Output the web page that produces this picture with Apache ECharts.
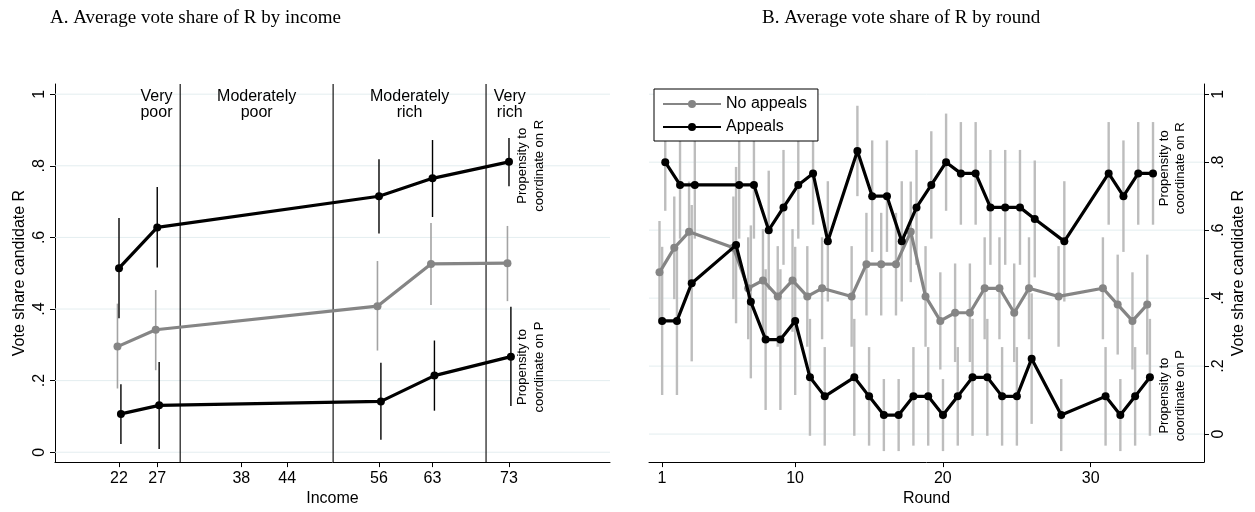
<!DOCTYPE html>
<html>
<head>
<meta charset="utf-8">
<script src="https://cdn.jsdelivr.net/npm/echarts@6/dist/echarts.min.js"></script>
<style>
  html, body { margin: 0; padding: 0; background: #fff; }
  #chart { width: 1255px; height: 512px; }
</style>
</head>
<body>
<div id="chart"></div>
<script>
// ---------- Panel A: vote share by income ----------
const incomeTicks = [22, 27, 38, 44, 56, 63, 73];
const incomeLevels = [22, 27, 56, 63, 73];
const incomeCuts = [30, 50, 70];
const incomeGroups = ['Very\npoor', 'Moderately\npoor', 'Moderately\nrich', 'Very\nrich'];
const incomeGroupCenters = [26.9, 40, 60, 73.1];

// propensity to coordinate on R (upper black)
const incomeR = [0.514, 0.628, 0.715, 0.765, 0.811];
const incomeRLo = [0.374, 0.516, 0.611, 0.657, 0.743];
const incomeRHi = [0.654, 0.741, 0.818, 0.872, 0.878];
// average share of R (grey)
const incomeAll = [0.295, 0.342, 0.408, 0.526, 0.528];
const incomeAllLo = [0.178, 0.229, 0.284, 0.411, 0.422];
const incomeAllHi = [0.415, 0.453, 0.534, 0.640, 0.632];
// propensity to coordinate on P (lower black)
const incomeP = [0.107, 0.131, 0.142, 0.214, 0.267];
const incomePLo = [0.023, 0.009, 0.035, 0.116, 0.129];
const incomePHi = [0.190, 0.252, 0.250, 0.312, 0.406];

// ---------- Panel B: vote share by round ----------
const roundTicks = [1, 10, 20, 30];
const rounds = [1, 2, 3, 6, 7, 8, 9, 10, 11, 12, 14, 15, 16, 17, 18, 19, 20, 21, 22, 23, 24, 25, 26, 28, 31, 32, 33, 34];
const noAppeals = [0.476, 0.548, 0.595, 0.548, 0.429, 0.452, 0.405, 0.452, 0.405, 0.429, 0.405, 0.500, 0.500, 0.500,
                   0.595, 0.405, 0.333, 0.357, 0.357, 0.429, 0.429, 0.357, 0.429, 0.405, 0.429, 0.381, 0.333, 0.381];
const noAppealsHalf = [0.151, 0.151, 0.148, 0.151, 0.150, 0.151, 0.148, 0.151, 0.148, 0.150, 0.148, 0.151, 0.151, 0.151,
                       0.148, 0.148, 0.143, 0.145, 0.145, 0.150, 0.150, 0.145, 0.150, 0.148, 0.150, 0.147, 0.143, 0.147];
const appealsR = [0.800, 0.733, 0.733, 0.733, 0.733, 0.600, 0.667, 0.733, 0.767, 0.567, 0.833, 0.700, 0.700, 0.567,
                  0.667, 0.733, 0.800, 0.767, 0.767, 0.667, 0.667, 0.667, 0.633, 0.567, 0.767, 0.700, 0.767, 0.767];
const appealsRHalf = [0.143, 0.158, 0.158, 0.158, 0.158, 0.175, 0.169, 0.158, 0.151, 0.177, 0.133, 0.164, 0.164, 0.177,
                      0.169, 0.158, 0.143, 0.151, 0.151, 0.169, 0.169, 0.169, 0.172, 0.177, 0.151, 0.164, 0.151, 0.151];
const appealsP = [0.333, 0.333, 0.444, 0.556, 0.389, 0.278, 0.278, 0.333, 0.167, 0.111, 0.167, 0.111, 0.056, 0.056,
                  0.111, 0.111, 0.056, 0.111, 0.167, 0.167, 0.111, 0.111, 0.222, 0.056, 0.111, 0.056, 0.111, 0.167];
const appealsPHalf = [0.218, 0.218, 0.230, 0.230, 0.225, 0.207, 0.207, 0.218, 0.172, 0.145, 0.172, 0.145, 0.106, 0.106,
                      0.145, 0.145, 0.106, 0.145, 0.172, 0.172, 0.145, 0.145, 0.192, 0.106, 0.145, 0.106, 0.145, 0.172];

const shareTicks = [0, 0.2, 0.4, 0.6, 0.8, 1];
const shareTickLabels = ['0', '.2', '.4', '.6', '.8', '1'];
const sideLabels = ['Propensity to\ncoordinate on R', 'Propensity to\ncoordinate on P'];

// ---------- styling ----------
const SANS = '"Liberation Sans", Arial, Helvetica, sans-serif';
const SERIF = '"Liberation Serif", "DejaVu Serif", serif';
const BLACK = '#000000';
const GREY = '#858585';
const CI_LEFT_GREY = '#a3a3a3';
const CI_RIGHT = '#bdbdbd';
const GRID = '#e4eef0';

// scale extents of each panel
const A_X = [13.63, 86.21], A_Y = [-0.0276, 1.0285];
const B_X = [0.12, 37.67], B_Y = [-0.0824, 1.030];
// horizontal dodge of the series inside each panel
const A_DODGE = { all: -0.2, r: 0, p: 0.25 };
const B_DODGE = { none: -0.17, r: 0.22, p: 0.01 };

function tickLabel(v) {
  let best = 0;
  shareTicks.forEach((t, i) => { if (Math.abs(t - v) < Math.abs(shareTicks[best] - v)) best = i; });
  return shareTickLabels[best];
}

function errorBarRender(color, width) {
  return function (params, api) {
    const x = api.value(0);
    const a = api.coord([x, api.value(1)]);
    const b = api.coord([x, api.value(2)]);
    return { type: 'line', shape: { x1: a[0], y1: a[1], x2: b[0], y2: b[1] },
             style: { stroke: color, lineWidth: width } };
  };
}

function hGridRender(params, api) {
  const cs = params.coordSys;
  const p = api.coord([api.value(0), api.value(1)]);
  return { type: 'line', shape: { x1: cs.x, y1: p[1], x2: cs.x + cs.width, y2: p[1] },
           style: { stroke: GRID, lineWidth: 1 } };
}

function vLineRender(params, api) {
  const cs = params.coordSys;
  const p = api.coord([api.value(0), api.value(1)]);
  return { type: 'line', shape: { x1: p[0], y1: cs.y, x2: p[0], y2: cs.y + cs.height },
           style: { stroke: BLACK, lineWidth: 1.1 } };
}

function textRender(texts, opt) {
  return function (params, api) {
    const p = api.coord([api.value(0), api.value(1)]);
    return { type: 'text', x: p[0], y: p[1], rotation: opt.rotation || 0,
             style: { text: texts[params.dataIndex], fill: BLACK, font: opt.font,
                      align: 'center', verticalAlign: opt.va || 'middle', lineHeight: opt.lh } };
  };
}

function bars(xs, lo, hi, dx) { return xs.map((x, i) => [x + dx, lo[i], hi[i]]); }
function barsHalf(xs, v, h, dx) { return xs.map((x, i) => [x + dx, v[i] - h[i], v[i] + h[i]]); }
function pts(xs, v, dx) { return xs.map((x, i) => [x + dx, v[i]]); }

function lineSeries(name, data, color, idx, z, size) {
  return { type: 'line', name: name, xAxisIndex: idx, yAxisIndex: idx, data: data, z: z,
           symbol: 'circle', symbolSize: size, showSymbol: true,
           itemStyle: { color: color }, lineStyle: { color: color, width: 3.2 },
           emphasis: { disabled: true } };
}

function customSeries(idx, data, render, z, encode) {
  return { type: 'custom', xAxisIndex: idx, yAxisIndex: idx, data: data, renderItem: render, z: z,
           silent: true, encode: encode || { x: 0, y: 1 } };
}

const axisTextStyle = { color: BLACK, fontSize: 16, fontFamily: SANS };

function xAxis(idx, ext, ticks, name) {
  return { gridIndex: idx, type: 'value', min: ext[0], max: ext[1], position: 'bottom',
           axisLine: { show: true, onZero: false, lineStyle: { color: BLACK, width: 1 } },
           axisTick: { show: true, customValues: ticks, length: 5, lineStyle: { color: BLACK, width: 1 } },
           axisLabel: Object.assign({ customValues: ticks, margin: 8, formatter: v => String(Math.round(v)) }, axisTextStyle),
           splitLine: { show: false },
           name: name, nameLocation: 'middle', nameGap: 26, nameTextStyle: axisTextStyle };
}

function yAxis(idx, ext, pos) {
  return { gridIndex: idx, type: 'value', min: ext[0], max: ext[1], position: pos,
           axisLine: { show: true, onZero: false, lineStyle: { color: BLACK, width: 1 } },
           axisTick: { show: true, customValues: shareTicks, length: 5, lineStyle: { color: BLACK, width: 1 } },
           axisLabel: Object.assign({ customValues: shareTicks, rotate: 90, margin: 7, formatter: tickLabel }, axisTextStyle),
           splitLine: { show: false },
           name: 'Vote share candidate R', nameLocation: 'middle', nameRotate: 90, nameGap: 27,
           nameTextStyle: axisTextStyle };
}

const option = {
  animation: false,
  backgroundColor: '#ffffff',
  title: [
    { text: 'A. Average vote share of R by income', left: 45, top: 4,
      textStyle: { fontFamily: SERIF, fontWeight: 'normal', fontSize: 19, color: BLACK } },
    { text: 'B. Average vote share of R by round', left: 757, top: 4,
      textStyle: { fontFamily: SERIF, fontWeight: 'normal', fontSize: 19, color: BLACK } }
  ],
  legend: {
    data: ['No appeals', 'Appeals'], orient: 'vertical', left: 654, top: 89,
    padding: [7, 11, 6, 8], itemGap: 7, itemWidth: 58, itemHeight: 10,
    backgroundColor: '#fff', borderColor: BLACK, borderWidth: 1, borderRadius: 0,
    textStyle: { color: BLACK, fontSize: 16, fontFamily: SANS },
    selectedMode: false
  },
  grid: [
    { left: 55, top: 84, width: 555, height: 382 },
    { left: 649, top: 84, width: 555, height: 382 }
  ],
  xAxis: [ xAxis(0, A_X, incomeTicks, 'Income'), xAxis(1, B_X, roundTicks, 'Round') ],
  yAxis: [ yAxis(0, A_Y, 'left'), yAxis(1, B_Y, 'right') ],
  series: [
    // panel A
    customSeries(0, shareTicks.map(v => [A_X[0], v]), hGridRender, 1),
    customSeries(0, incomeCuts.map(v => [v, 0]), vLineRender, 2),
    customSeries(0, bars(incomeLevels, incomeAllLo, incomeAllHi, A_DODGE.all), errorBarRender(CI_LEFT_GREY, 1.6), 3, { x: 0, y: [1, 2] }),
    customSeries(0, bars(incomeLevels, incomeRLo, incomeRHi, A_DODGE.r), errorBarRender(BLACK, 1.4), 3, { x: 0, y: [1, 2] }),
    customSeries(0, bars(incomeLevels, incomePLo, incomePHi, A_DODGE.p), errorBarRender(BLACK, 1.4), 3, { x: 0, y: [1, 2] }),
    lineSeries('Average share', pts(incomeLevels, incomeAll, A_DODGE.all), GREY, 0, 4, 8),
    lineSeries('Coordinate on R', pts(incomeLevels, incomeR, A_DODGE.r), BLACK, 0, 5, 8),
    lineSeries('Coordinate on P', pts(incomeLevels, incomeP, A_DODGE.p), BLACK, 0, 5, 8),
    customSeries(0, incomeGroupCenters.map(x => [x, 1.017]), textRender(incomeGroups, { font: '16px ' + SANS, va: 'top', lh: 16.5 }), 6),
    customSeries(0, [[75.9, 0.80], [75.9, 0.238]], textRender(sideLabels, { font: '13px ' + SANS, rotation: Math.PI / 2, lh: 16.5 }), 6),
    // panel B
    customSeries(1, shareTicks.map(v => [B_X[0], v]), hGridRender, 1),
    customSeries(1, barsHalf(rounds, noAppeals, noAppealsHalf, B_DODGE.none), errorBarRender(CI_RIGHT, 2.4), 3, { x: 0, y: [1, 2] }),
    customSeries(1, barsHalf(rounds, appealsR, appealsRHalf, B_DODGE.r), errorBarRender(CI_RIGHT, 2.4), 3, { x: 0, y: [1, 2] }),
    customSeries(1, barsHalf(rounds, appealsP, appealsPHalf, B_DODGE.p), errorBarRender(CI_RIGHT, 2.4), 3, { x: 0, y: [1, 2] }),
    lineSeries('No appeals', pts(rounds, noAppeals, B_DODGE.none), GREY, 1, 4, 8),
    lineSeries('Appeals', pts(rounds, appealsR, B_DODGE.r), BLACK, 1, 5, 8),
    lineSeries('Appeals', pts(rounds, appealsP, B_DODGE.p), BLACK, 1, 5, 8),
    customSeries(1, [[35.54, 0.782], [35.54, 0.113]], textRender(sideLabels, { font: '13px ' + SANS, rotation: Math.PI / 2, lh: 16.5 }), 6)
  ]
};

const chart = echarts.init(document.getElementById('chart'), null, { renderer: 'canvas' });
chart.setOption(option);
</script>
</body>
</html>
